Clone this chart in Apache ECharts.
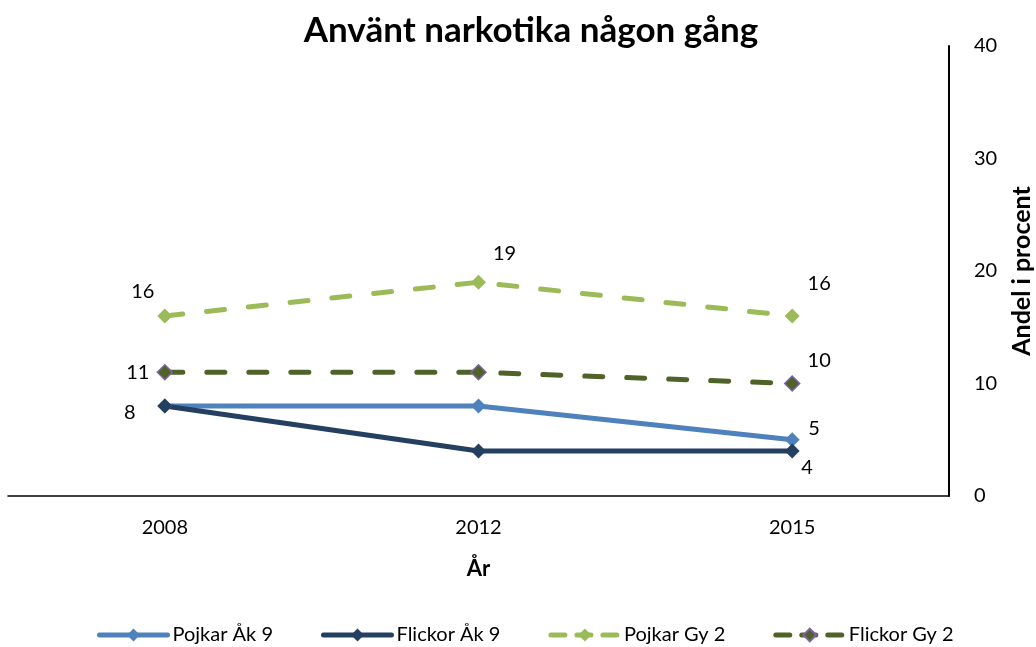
<!DOCTYPE html>
<html><head><meta charset="utf-8">
<script src="https://cdn.jsdelivr.net/npm/echarts@6/dist/echarts.min.js"></script>
<style>html,body{margin:0;padding:0;background:#fff}#c{width:1036px;height:647px}</style>
</head><body><div id="c"></div>
<script>
const years = ['2008', '2012', '2015'];
const pojkarAk9 = [8, 8, 5];
const flickorAk9 = [8, 4, 4];
const pojkarGy2 = [16, 19, 16];
const flickorGy2 = [11, 11, 10];
const yTicks = [0, 10, 20, 30, 40];

const FONT = 'Lato, "Open Sans", sans-serif';
// label display: offset per point (null = no label)
const labelOffsets = {
  pojkarAk9: [[-35, 7], null, [22, -11]],
  flickorAk9: [null, null, [15, 17]],
  pojkarGy2: [[-22, -24], [26, -29], [27, -32]],
  flickorGy2: [[-27, 0], null, [27, -23]]
};
function build(vals, offs) {
  return vals.map((v, i) => {
    const o = offs[i];
    return o ? { value: v, label: { show: true, position: 'inside', offset: o } }
             : { value: v, label: { show: false } };
  });
}
const DASH = [18, 24];
function mkSeries(name, vals, offs, color, dashed, border) {
  return {
    name, type: 'line', data: build(vals, offs),
    symbol: 'diamond', symbolSize: 15,
    lineStyle: { color, width: 5, type: dashed ? DASH : 'solid', cap: 'round' },
    itemStyle: { color, borderColor: border || color, borderWidth: border ? 1.5 : 0 },
    label: { color: '#000', fontSize: 20, fontFamily: FONT },
    emphasis: { disabled: true },
    z: 2
  };
}
const legendNames = ['Pojkar Åk 9', 'Flickor Åk 9', 'Pojkar Gy 2', 'Flickor Gy 2'];
const legendDashed = [false, false, true, true];
const chart = echarts.init(document.getElementById('c'));
chart.setOption({
  animation: false,
  title: { text: 'Använt narkotika någon gång', left: 526, textAlign: 'center', top: 8,
    textStyle: { fontSize: 35, fontWeight: 'bold', fontFamily: FONT, color: '#000' } },
  grid: { left: 8, right: 87, top: 46, bottom: 151, outerBoundsMode: 'none', containLabel: false },
  xAxis: {
    type: 'category', data: years, boundaryGap: true,
    name: 'År', nameLocation: 'middle', nameGap: 62,
    nameTextStyle: { fontSize: 22, fontWeight: 'bold', fontFamily: FONT, color: '#000' },
    axisLine: { lineStyle: { color: '#000', width: 1.5 } },
    axisTick: { show: false },
    axisLabel: { fontSize: 20, fontFamily: FONT, color: '#000', margin: 22 }
  },
  yAxis: {
    type: 'value', position: 'right', min: yTicks[0], max: yTicks[yTicks.length - 1], interval: 10,
    name: 'Andel i procent', nameLocation: 'middle', nameGap: 60, nameRotate: 90,
    nameTextStyle: { fontSize: 25, fontWeight: 'bold', fontFamily: FONT, color: '#000' },
    axisLine: { show: true, lineStyle: { color: '#000', width: 2 } },
    axisTick: { show: false },
    splitLine: { show: false },
    axisLabel: { fontSize: 20, fontFamily: FONT, color: '#000', margin: 25 }
  },
  legend: {
    bottom: -3, left: 92, itemWidth: 68, itemHeight: 16, itemGap: 48,
    textStyle: { fontSize: 20, fontFamily: FONT, color: '#000' },
    data: legendNames.map((n, i) => ({
      name: n,
      lineStyle: { width: 5, type: legendDashed[i] ? [14, 12] : 'solid', cap: 'round' }
    }))
  },
  series: [
    mkSeries('Pojkar Åk 9', pojkarAk9, labelOffsets.pojkarAk9, '#4F81BD', false),
    mkSeries('Flickor Åk 9', flickorAk9, labelOffsets.flickorAk9, '#243F60', false),
    mkSeries('Pojkar Gy 2', pojkarGy2, labelOffsets.pojkarGy2, '#9BBB59', true),
    mkSeries('Flickor Gy 2', flickorGy2, labelOffsets.flickorGy2, '#4F6228', true, '#8064A2')
  ]
});
</script></body></html>
